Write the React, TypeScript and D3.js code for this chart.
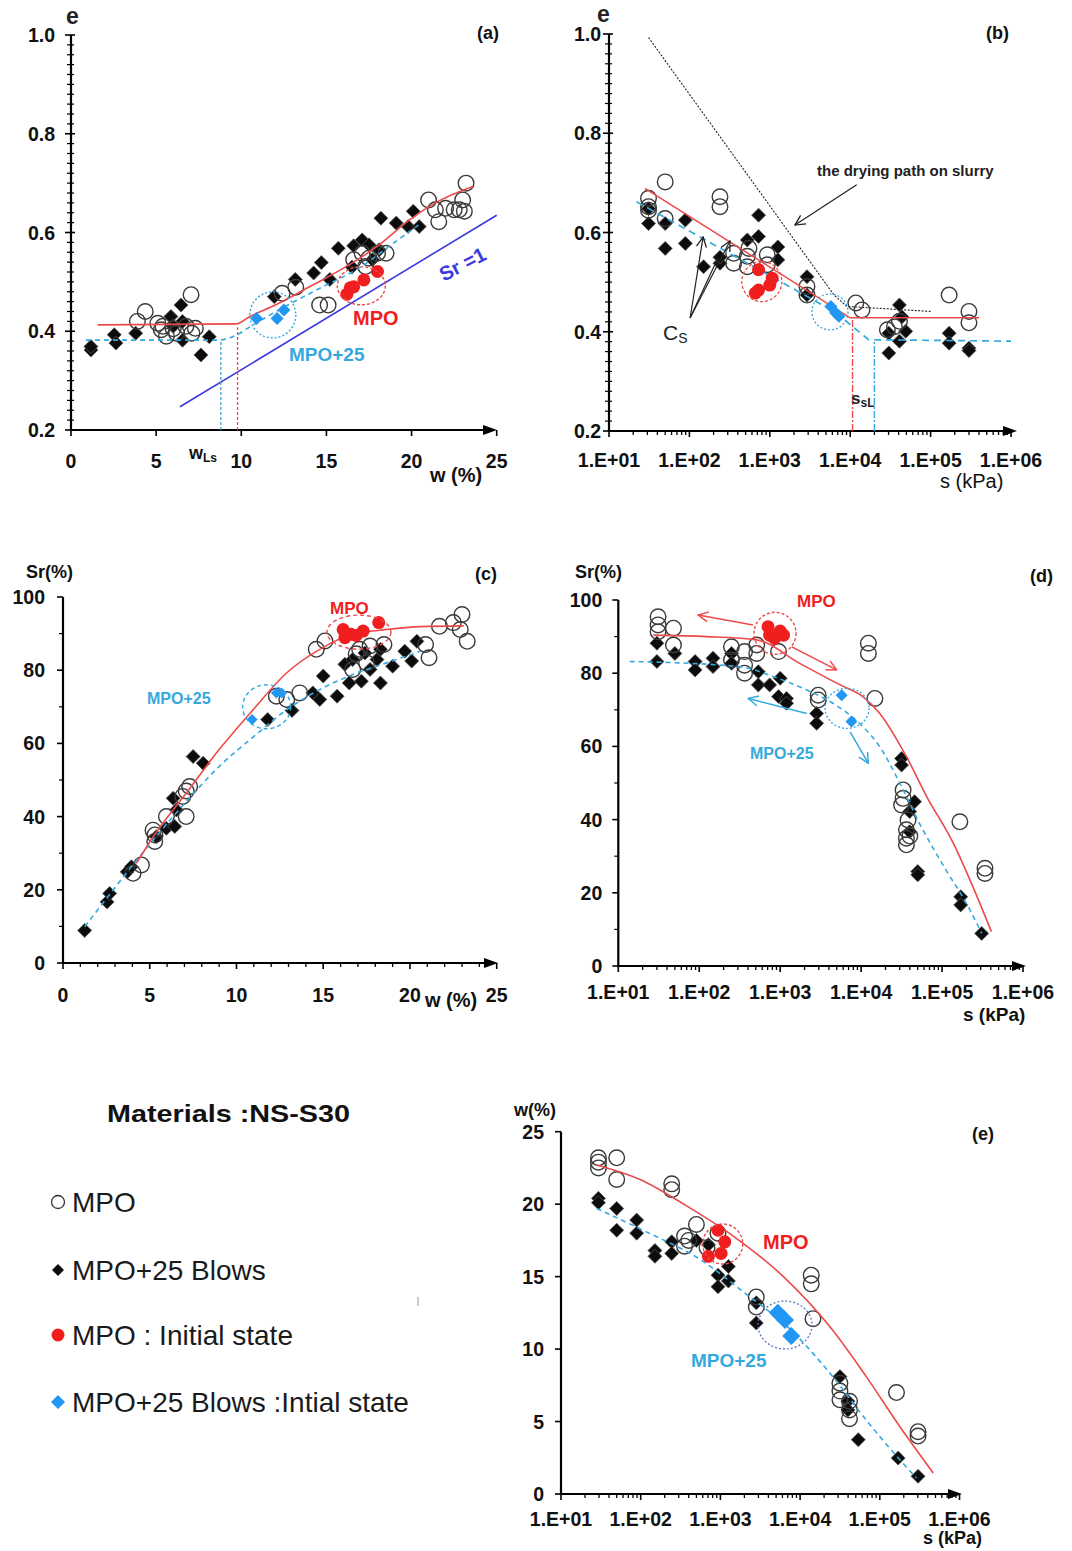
import React from 'react';
import * as d3 from 'd3';

type Pt = [number, number];

// ---------- Panel (a): e vs w (%) ----------
const aMPO: Pt[] = [[4.36,0.44],[3.9,0.42],[5.1,0.416],[5.3,0.403],[5.6,0.39],[6.2,0.396],[6.75,0.41],[7.1,0.396],[7.3,0.406],[7.05,0.474],[5.4,0.41],[6.0,0.405],
  [12.4,0.477],[13.2,0.489],[14.6,0.453],[15.1,0.453],[16.6,0.545],[17.1,0.558],[17.5,0.548],[18.0,0.558],[18.5,0.558],[17.3,0.531],[21.0,0.666],[21.4,0.646],[21.6,0.622],[22.0,0.649],[22.5,0.646],[22.8,0.646],[23.0,0.666],[23.2,0.7],[23.1,0.643]];
const aBlows: Pt[] = [[1.17,0.362],[1.17,0.369],[2.54,0.393],[2.64,0.376],[3.8,0.396],[5.87,0.43],[6.46,0.453],[6.55,0.42],[6.55,0.382],[7.63,0.352],[8.12,0.389],[6.0,0.41],
  [11.94,0.47],[13.17,0.505],[14.25,0.518],[14.7,0.539],[15.2,0.505],[15.7,0.568],[16.6,0.573],[17.1,0.585],[17.5,0.575],[18.1,0.565],[17.7,0.545],[16.5,0.53],[18.2,0.629],[19.1,0.619],[19.8,0.612],[20.1,0.643],[20.45,0.612]];
const aMPOInit: Pt[] = [[16.2,0.475],[16.4,0.488],[16.6,0.49],[17.2,0.504],[18.0,0.521]];
const aBlowsInit: Pt[] = [[10.9,0.426],[12.1,0.426],[12.5,0.443]];
const aRedCurve: Pt[] = [[1.57,0.413],[9.7,0.415],[10.5,0.43],[12.0,0.453],[14.0,0.49],[16.5,0.538],[18.1,0.575],[19.9,0.626],[21.4,0.66],[23.6,0.693]];
const aCyanCurve: Pt[] = [[0.88,0.382],[8.7,0.382],[9.5,0.389],[10.7,0.413],[12.2,0.443],[14.5,0.485],[17.0,0.53],[19.0,0.58],[20.4,0.615]];
const aSrLine: Pt[] = [[6.4,0.247],[25.0,0.635]];
const aWLsRed: Pt[] = [[9.78,0.2],[9.78,0.408]];
const aWLsCyan: Pt[] = [[8.8,0.2],[8.8,0.382]];
const aCircleCyan: Pt = [11.85,0.433];
const aCircleRed: Pt = [17.05,0.492];

// ---------- Panel (b): e vs s (kPa) ----------
const bMPO: Pt[] = [[31,0.669],[31,0.652],[31,0.645],[50,0.702],[50,0.628],[240,0.672],[240,0.652],[355,0.558],[355,0.538],[525,0.531],[525,0.552],[550,0.568],[930,0.555],[930,0.535],[2900,0.491],[2900,0.474],[11750,0.458],[14000,0.444],[29000,0.404],[41000,0.421],[35500,0.41],[170000,0.474],[300000,0.441],[300000,0.418]];
const bBlows: Pt[] = [[31,0.618],[31,0.648],[50,0.568],[50,0.618],[89,0.625],[89,0.578],[150,0.531],[240,0.538],[240,0.55],[525,0.585],[725,0.635],[725,0.592],[1260,0.571],[1260,0.545],[2900,0.511],[2900,0.474],[30200,0.397],[30200,0.357],[41000,0.454],[41000,0.381],[49000,0.401],[44000,0.43],[170000,0.397],[170000,0.377],[300000,0.367],[300000,0.362]];
const bMPOInit: Pt[] = [[725,0.525],[725,0.484],[660,0.478],[1070,0.508],[1000,0.494]];
const bBlowsInit: Pt[] = [[5750,0.451],[6600,0.438],[7250,0.431]];
const bSlurry: Pt[] = [[31,0.993],[6300,0.474],[9100,0.451],[100000,0.441]];
const bRedLine: Pt[] = [[28,0.689],[10000,0.428],[400000,0.428]];
const bCyanLine: Pt[] = [[22,0.662],[6300,0.441],[17000,0.384],[1000000,0.381]];
const bSsLRed: Pt[] = [[10700,0.2],[10700,0.428]];
const bSsLCyan: Pt[] = [[20000,0.2],[20000,0.38]];
const bCircleRed: Pt = [795,0.501];
const bCircleCyan: Pt = [5600,0.44];
const bSlurryArrow: Pt[] = [[12050,0.696],[2055,0.615]];
const bCsFrom: Pt = [102,0.4277];
const bCsTo: Pt[] = [[148,0.591],[320,0.583],[227,0.549]];

// ---------- Panel (c): Sr (%) vs w (%) ----------
const cMPO: Pt[] = [[4.04,24.5],[4.52,26.8],[5.29,33.2],[5.19,36.3],[5.96,40.0],[7.1,40.0],[6.9,45.5],[7.3,48.2],[7.1,47.0],[12.3,72.9],[12.9,72.0],[13.65,73.8],[14.6,85.7],[15.1,88.0],[16.7,80.2],[17.1,85.7],[17.7,86.6],[18.5,87.0],[17.5,82.0],[20.9,87.0],[21.1,83.4],[21.7,92.0],[22.5,93.0],[23.0,95.2],[22.9,91.1],[23.3,87.9],[16.9,84.5],[5.3,35.0]];
const cBlows: Pt[] = [[1.25,8.9],[2.54,16.7],[2.69,19.0],[3.7,24.9],[3.94,26.3],[5.38,34.5],[5.96,36.8],[6.44,37.3],[6.35,45.0],[6.54,41.8],[7.5,56.4],[8.08,54.6],[11.8,66.5],[13.2,69.0],[14.4,73.8],[14.8,72.0],[15.0,78.4],[15.8,72.9],[16.25,81.6],[16.5,76.5],[16.7,82.9],[17.2,77.0],[17.7,80.2],[17.4,84.7],[18.1,82.9],[18.3,85.7],[18.3,76.5],[19.0,81.1],[19.7,85.2],[20.1,82.5],[20.4,87.9]];
const cMPOInit: Pt[] = [[16.15,91.1],[16.25,88.9],[16.6,89.8],[17.3,90.7],[18.2,93.0],[16.9,89.5]];
const cBlowsInit: Pt[] = [[10.9,66.5],[12.3,73.8],[12.6,73.8]];
const cRedCurve: Pt[] = [[4.23,27.2],[5.2,34.5],[7.1,46.4],[9.0,58.3],[10.96,69.2],[12.9,79.3],[14.8,85.7],[16.7,89.8],[18.65,91.1],[20.6,91.9],[23.1,92.1]];
const cCyanCurve: Pt[] = [[1.25,9.9],[5.2,33.6],[7.1,44.1],[9.0,53.7],[11.0,61.9],[12.9,69.2],[14.8,74.7],[16.7,78.8],[18.65,82.0],[20.6,85.2]];
const cCircleCyan: Pt = [11.74,70.0];
const cCircleRed: Pt = [17.06,90.4];

// ---------- Panel (d): Sr (%) vs s (kPa) ----------
const dMPO: Pt[] = [[31,95.4],[31,93.2],[31,91.3],[48,92.3],[48,87.7],[250,87.2],[250,83.6],[363,85.9],[363,82.2],[363,80.0],[513,87.7],[513,85.4],[955,85.9],[2950,74.0],[2950,72.7],[12300,88.2],[12300,85.4],[14800,73.1],[33000,48.1],[33000,45.8],[31600,44.0],[38000,39.9],[36300,37.2],[36300,34.9],[36300,33.1],[40000,35.5],[166000,39.4],[339000,26.7],[339000,25.3]];
const dBlows: Pt[] = [[30,88.2],[30,83.2],[50,85.4],[89,83.2],[89,80.9],[148,84.1],[148,81.8],[251,85.4],[251,82.7],[537,80.4],[537,76.8],[741,76.8],[1000,78.6],[955,73.6],[1200,73.1],[1200,71.8],[2820,69.0],[2820,66.3],[31600,56.7],[31600,54.9],[45700,44.9],[39800,42.2],[39800,36.7],[50100,25.8],[50100,24.9],[170000,18.9],[170000,16.7],[309000,8.9]];
const dMPOInit: Pt[] = [[708,92.7],[741,90.4],[1100,90.4],[851,89.5],[1000,91.5]];
const dBlowsInit: Pt[] = [[5750,74.0],[7590,66.8]];
const dRedCurve: Pt[] = [[27,90.4],[123,90.0],[513,89.1],[1740,82.7],[5500,76.8],[10500,73.6],[17000,69.0],[36300,57.2],[64600,46.3],[138000,33.5],[240000,21.7],[407000,9.4]];
const dCyanCurve: Pt[] = [[13.8,83.2],[316,81.8],[813,79.1],[2140,75.4],[4470,71.8],[9550,66.3],[17000,59.9],[30200,49.9],[52500,39.0],[112000,26.2],[200000,17.1],[309000,8.9]];
const dCircleRed: Pt = [863,90.9];
const dCircleCyan: Pt = [6700,70.4];
const dRedArrows: Pt[][] = [[[461,93.2],[97,95.9]],[[1390,87.2],[4990,80.9]]];
const dCyanArrows: Pt[][] = [[[2130,69.0],[404,73.1]],[[7300,64.0],[12270,55.4]]];

// ---------- Panel (e): w (%) vs s (kPa) ----------
const eMPO: Pt[] = [[29.5,23.2],[29.5,22.9],[29.5,22.5],[50,23.2],[50,21.7],[245,21.4],[245,21.0],[355,17.8],[355,17.1],[400,17.5],[500,18.6],[680,17.0],[933,18.0],[2820,13.6],[2820,12.9],[13800,15.1],[13800,14.5],[14500,12.1],[31600,7.65],[31600,7.1],[31600,6.5],[41700,6.4],[41700,5.8],[41700,5.2],[162000,7.0],[302000,4.3],[302000,4.0]];
const eBlows: Pt[] = [[29.5,20.4],[29.5,20.1],[50,19.7],[50,18.2],[89,18.9],[89,18.0],[151,16.8],[151,16.4],[245,17.4],[245,16.6],[500,17.5],[708,17.2],[933,15.1],[933,14.3],[1260,15.7],[1260,14.7],[2820,13.2],[2820,11.8],[31600,8.1],[39800,6.4],[39800,5.8],[53700,3.75],[170000,2.48],[302000,1.22]];
const eMPOInit: Pt[] = [[933,18.2],[1135,17.4],[708,16.4],[1020,16.6]];
const eBlowsInit: Pt[] = [[5250,12.5],[6460,12.0],[7760,10.9]];
const eRedCurve: Pt[] = [[28,22.7],[98,21.7],[372,19.9],[1450,17.8],[6170,15.0],[25700,11.3],[67600,8.1],[178000,4.66],[468000,1.45]];
const eCyanCurve: Pt[] = [[28,19.7],[107,18.2],[550,16.2],[2340,13.6],[6170,11.8],[25700,8.1],[67600,5.1],[178000,2.37],[288000,1.1]];
const eCircleRed: Pt = [1070,17.25];
const eCircleBlue: Pt = [6460,11.66];

// ---------- Ticks ----------
const wMajor = [0, 5, 10, 15, 20, 25];
const wLabels = ['0', '5', '10', '15', '20', '25'];
const wMinorC = [1,2,3,4,6,7,8,9,11,12,13,14,16,17,18,19,21,22,23,24];
const eMajor = [0.2, 0.4, 0.6, 0.8, 1.0];
const eLabels = ['0.2', '0.4', '0.6', '0.8', '1.0'];
const eMinor = [0.22,0.24,0.26,0.28,0.3,0.32,0.34,0.36,0.38,0.42,0.44,0.46,0.48,0.5,0.52,0.54,0.56,0.58,0.62,0.64,0.66,0.68,0.7,0.72,0.74,0.76,0.78,0.82,0.84,0.86,0.88,0.9,0.92,0.94,0.96,0.98];
const sMajor = [1e1, 1e2, 1e3, 1e4, 1e5, 1e6];
const sLabels = ['1.E+01', '1.E+02', '1.E+03', '1.E+04', '1.E+05', '1.E+06'];
const srMajor = [0, 20, 40, 60, 80, 100];
const srLabels = ['0', '20', '40', '60', '80', '100'];
const srMinor = [10, 30, 50, 70, 90];
const wEMajor = [0, 5, 10, 15, 20, 25];
const wELabels = ['0', '5', '10', '15', '20', '25'];

// legend
const legendItems = ['MPO', 'MPO+25 Blows', 'MPO : Initial state', 'MPO+25 Blows :Intial state'];

const FONT = "'Liberation Sans', Arial, Helvetica, sans-serif";
const RED = '#f01e1e';
const REDLINE = '#ec4a4a';
const CYAN = '#35a9de';
const BLUEMK = '#2196f3';
const SRBLUE = '#3a3ae0';
const TICKFS = 19.5;

function sMinorTicks(): number[] {
  const out: number[] = [];
  for (let d = 1; d < 6; d++) for (let k = 2; k <= 9; k++) out.push(k * Math.pow(10, d));
  return out;
}

function Diamond({ cx, cy, r, fill, stroke }: { cx: number; cy: number; r: number; fill: string; stroke?: string }) {
  return <path d={`M${cx},${cy - r}L${cx + r},${cy}L${cx},${cy + r}L${cx - r},${cy}Z`} fill={fill} stroke={stroke || 'none'} strokeWidth={0.8} />;
}

function Axes(p: {
  x: any; y: any; xMajor: number[]; xLabels: string[]; xMinor: number[];
  yMajor: number[]; yLabels: string[]; yMinor: number[]; both?: boolean;
  xEnd: number; xLabelY: number; yLabelGap: number; fs?: number;
}) {
  const { x, y } = p;
  const x0 = x.range()[0];
  const yb = y.range()[0];
  const yt = y.range()[1];
  const fs = p.fs ?? TICKFS;
  return (
    <g>
      <line x1={x0} x2={p.xEnd} y1={yb} y2={yb} stroke="#000" strokeWidth={2.2} />
      <path d={`M${p.xEnd + 5},${yb}L${p.xEnd - 9},${yb - 5}L${p.xEnd - 9},${yb + 5}Z`} fill="#000" />
      <line x1={x0} x2={x0} y1={yb + 1} y2={yt} stroke="#000" strokeWidth={2.2} />
      {p.xMajor.map((v, i) => <line key={'xM' + i} x1={x(v)} x2={x(v)} y1={yb} y2={yb + 6} stroke="#000" strokeWidth={1.6} />)}
      {p.xMinor.map((v, i) => <line key={'xm' + i} x1={x(v)} x2={x(v)} y1={yb} y2={yb + 4} stroke="#000" strokeWidth={1.3} />)}
      {p.yMajor.map((v, i) => <line key={'yM' + i} x1={x0 - 6} x2={p.both ? x0 + 4 : x0} y1={y(v)} y2={y(v)} stroke="#000" strokeWidth={1.6} />)}
      {p.yMinor.map((v, i) => <line key={'ym' + i} x1={x0 - 4} x2={p.both ? x0 + 3 : x0} y1={y(v)} y2={y(v)} stroke="#000" strokeWidth={1.2} />)}
      {p.xLabels.map((t, i) => (
        <text key={'xl' + i} x={x(p.xMajor[i])} y={p.xLabelY} textAnchor="middle" fontWeight="bold" fontSize={fs} fill="#111">{t}</text>
      ))}
      {p.yLabels.map((t, i) => (
        <text key={'yl' + i} x={x0 - p.yLabelGap} y={y(p.yMajor[i]) + 7} textAnchor="end" fontWeight="bold" fontSize={fs} fill="#111">{t}</text>
      ))}
    </g>
  );
}

function Marks(p: { x: any; y: any; mpo: Pt[]; blows: Pt[] }) {
  return (
    <g>
      {p.blows.map((d, i) => <Diamond key={'b' + i} cx={p.x(d[0])} cy={p.y(d[1])} r={7} fill="#0c0c0c" stroke="#555" />)}
      {p.mpo.map((d, i) => <circle key={'o' + i} cx={p.x(d[0])} cy={p.y(d[1])} r={7.8} fill="none" stroke="#3a3a3a" strokeWidth={1.4} />)}
    </g>
  );
}

function InitMarks(p: { x: any; y: any; mpo: Pt[]; blows: Pt[]; br?: number }) {
  return (
    <g>
      {p.mpo.map((d, i) => <circle key={'r' + i} cx={p.x(d[0])} cy={p.y(d[1])} r={6.5} fill={RED} />)}
      {p.blows.map((d, i) => <Diamond key={'u' + i} cx={p.x(d[0])} cy={p.y(d[1])} r={p.br ?? 6.5} fill={BLUEMK} />)}
    </g>
  );
}

function linePath(x: any, y: any, pts: Pt[], curve?: any) {
  const g = d3.line<Pt>().x(d => x(d[0])).y(d => y(d[1]));
  if (curve) g.curve(curve);
  return g(pts) || '';
}

export default function App() {
  // scales
  const ax = d3.scaleLinear().domain([0, 25]).range([71, 496.7]);
  const ay = d3.scaleLinear().domain([0.2, 1.0]).range([430, 35]);
  const bx = d3.scaleLog().domain([10, 1e6]).range([609, 1011]);
  const by = d3.scaleLinear().domain([0.2, 1.0]).range([431, 34]);
  const cx = d3.scaleLinear().domain([0, 25]).range([63, 496.7]);
  const cy = d3.scaleLinear().domain([0, 100]).range([963, 597]);
  const dx = d3.scaleLog().domain([10, 1e6]).range([618.3, 1023]);
  const dy = d3.scaleLinear().domain([0, 100]).range([966, 600]);
  const ex = d3.scaleLog().domain([10, 1e6]).range([561, 959.5]);
  const ey = d3.scaleLinear().domain([0, 25]).range([1494, 1131.7]);
  const sMinor = sMinorTicks();

  const srAngle = (Math.atan2(ay(aSrLine[1][1]) - ay(aSrLine[0][1]), ax(aSrLine[1][0]) - ax(aSrLine[0][0])) * 180) / Math.PI;

  return (
    <svg width={1072} height={1551} viewBox="0 0 1072 1551" style={{ position: 'absolute', left: 0, top: 0, background: '#fff' }} fontFamily={FONT}>
      <defs>
        <marker id="arrK" viewBox="0 0 12 12" refX="11" refY="6" markerWidth="12" markerHeight="12" markerUnits="userSpaceOnUse" orient="auto">
          <path d="M1,1 L11,6 L1,11" fill="none" stroke="#222" strokeWidth={1.3} />
        </marker>
        <marker id="arrR" viewBox="0 0 12 12" refX="11" refY="6" markerWidth="12" markerHeight="12" markerUnits="userSpaceOnUse" orient="auto">
          <path d="M1,1 L11,6 L1,11" fill="none" stroke={REDLINE} strokeWidth={1.5} />
        </marker>
        <marker id="arrC" viewBox="0 0 12 12" refX="11" refY="6" markerWidth="12" markerHeight="12" markerUnits="userSpaceOnUse" orient="auto">
          <path d="M1,1 L11,6 L1,11" fill="none" stroke={CYAN} strokeWidth={1.5} />
        </marker>
      </defs>
      <rect x={0} y={0} width={1072} height={1551} fill="#fff" />

      {/* ================= Panel (a) ================= */}
      <g>
        <Axes x={ax} y={ay} xMajor={wMajor} xLabels={wLabels} xMinor={[]} yMajor={eMajor} yLabels={eLabels} yMinor={eMinor} both
          xEnd={492} xLabelY={468} yLabelGap={16} />
        <text x={66} y={24} fontSize={23} fontWeight="bold" fill="#222">e</text>
        <text x={477} y={39} fontSize={18} fontWeight="bold" fill="#111">(a)</text>
        <text x={430} y={482} fontSize={20} fontWeight="bold" fill="#111">w (%)</text>
        <text x={189} y={459} fontSize={18} fontWeight="bold" fill="#111">w<tspan fontSize={12} dy={3}>Ls</tspan></text>
        <path d={linePath(ax, ay, aSrLine)} stroke={SRBLUE} strokeWidth={1.6} fill="none" />
        <path d={linePath(ax, ay, aWLsCyan)} stroke={CYAN} strokeWidth={1.3} strokeDasharray="3,2" fill="none" />
        <path d={linePath(ax, ay, aWLsRed)} stroke={REDLINE} strokeWidth={1.3} strokeDasharray="3,2" fill="none" />
        <Marks x={ax} y={ay} mpo={aMPO} blows={aBlows} />
        <path d={linePath(ax, ay, aCyanCurve, d3.curveMonotoneX)} stroke={CYAN} strokeWidth={1.6} strokeDasharray="5,4" fill="none" />
        <path d={linePath(ax, ay, aRedCurve, d3.curveMonotoneX)} stroke={REDLINE} strokeWidth={1.6} fill="none" />
        <InitMarks x={ax} y={ay} mpo={aMPOInit} blows={aBlowsInit} />
        <circle cx={ax(aCircleCyan[0])} cy={ay(aCircleCyan[1])} r={23} fill="none" stroke={CYAN} strokeWidth={1.4} strokeDasharray="2,2" />
        <ellipse cx={ax(aCircleRed[0])} cy={ay(aCircleRed[1])} rx={24} ry={19} fill="none" stroke={REDLINE} strokeWidth={1.4} strokeDasharray="3,2" />
        <text x={353} y={325} fontSize={20} fontWeight="bold" fill={RED}>MPO</text>
        <text x={289} y={361} fontSize={19} fontWeight="bold" fill={CYAN}>MPO+25</text>
        <text x={463} y={271} fontSize={20} fontWeight="bold" fill={SRBLUE} textAnchor="middle" transform={`rotate(${srAngle + 4},463,265)`}>Sr =1</text>
      </g>

      {/* ================= Panel (b) ================= */}
      <g>
        <Axes x={bx} y={by} xMajor={sMajor} xLabels={sLabels} xMinor={sMinor} yMajor={eMajor} yLabels={eLabels} yMinor={eMinor} both
          xEnd={1012} xLabelY={467} yLabelGap={8} />
        <text x={597} y={22} fontSize={23} fontWeight="bold" fill="#222">e</text>
        <text x={986} y={39} fontSize={18} fontWeight="bold" fill="#111">(b)</text>
        <text x={940} y={488} fontSize={20} fill="#111">s (kPa)</text>
        <path d={linePath(bx, by, bSsLRed)} stroke={REDLINE} strokeWidth={1.4} strokeDasharray="7,2,2,2" fill="none" />
        <path d={linePath(bx, by, bSsLCyan)} stroke={CYAN} strokeWidth={1.4} strokeDasharray="7,2,2,2" fill="none" />
        <path d={linePath(bx, by, bSlurry)} stroke="#222" strokeWidth={1.1} strokeDasharray="2,1.5" fill="none" />
        <Marks x={bx} y={by} mpo={bMPO} blows={bBlows} />
        <path d={linePath(bx, by, bCyanLine)} stroke={CYAN} strokeWidth={1.7} strokeDasharray="7,5" fill="none" />
        <path d={linePath(bx, by, bRedLine)} stroke={REDLINE} strokeWidth={1.5} fill="none" />
        <InitMarks x={bx} y={by} mpo={bMPOInit} blows={bBlowsInit} />
        <circle cx={bx(bCircleRed[0])} cy={by(bCircleRed[1])} r={20} fill="none" stroke={REDLINE} strokeWidth={1.3} strokeDasharray="3,2" />
        <circle cx={bx(bCircleCyan[0])} cy={by(bCircleCyan[1])} r={18} fill="none" stroke={CYAN} strokeWidth={1.3} strokeDasharray="2,2" />
        <path d={linePath(bx, by, bSlurryArrow)} stroke="#222" strokeWidth={1.2} fill="none" markerEnd="url(#arrK)" />
        <text x={817} y={176} fontSize={15} fontWeight="bold" fill="#222">the drying path on slurry</text>
        {bCsTo.map((t, i) => (
          <path key={'cs' + i} d={linePath(bx, by, [bCsFrom, t])} stroke="#222" strokeWidth={1.2} fill="none" markerEnd={i < 2 ? 'url(#arrK)' : undefined} />
        ))}
        <text x={663} y={340} fontSize={21} fill="#222">C<tspan fontSize={14} dy={3}>S</tspan></text>
        <text x={851} y={404} fontSize={17} fontWeight="bold" fill="#222">s<tspan fontSize={12} dy={3}>sL</tspan></text>
      </g>

      {/* ================= Panel (c) ================= */}
      <g>
        <Axes x={cx} y={cy} xMajor={wMajor} xLabels={wLabels} xMinor={wMinorC} yMajor={srMajor} yLabels={srLabels} yMinor={srMinor}
          xEnd={493} xLabelY={1002} yLabelGap={18} />
        <text x={26} y={578} fontSize={18} fontWeight="bold" fill="#111">Sr(%)</text>
        <text x={475} y={580} fontSize={18} fontWeight="bold" fill="#111">(c)</text>
        <text x={425} y={1007} fontSize={20} fontWeight="bold" fill="#111">w (%)</text>
        <Marks x={cx} y={cy} mpo={cMPO} blows={cBlows} />
        <path d={linePath(cx, cy, cCyanCurve, d3.curveMonotoneX)} stroke={CYAN} strokeWidth={1.6} strokeDasharray="5,4" fill="none" />
        <path d={linePath(cx, cy, cRedCurve, d3.curveMonotoneX)} stroke={REDLINE} strokeWidth={1.6} fill="none" />
        <InitMarks x={cx} y={cy} mpo={cMPOInit} blows={cBlowsInit} br={5.5} />
        <ellipse cx={cx(cCircleCyan[0])} cy={cy(cCircleCyan[1])} rx={24} ry={22} fill="none" stroke={CYAN} strokeWidth={1.4} strokeDasharray="4,3" />
        <ellipse cx={cx(cCircleRed[0])} cy={cy(cCircleRed[1])} rx={32} ry={17} fill="none" stroke={REDLINE} strokeWidth={1.4} strokeDasharray="4,3" />
        <text x={330} y={614} fontSize={17} fontWeight="bold" fill={RED}>MPO</text>
        <text x={147} y={704} fontSize={16} fontWeight="bold" fill={CYAN}>MPO+25</text>
      </g>

      {/* ================= Panel (d) ================= */}
      <g>
        <Axes x={dx} y={dy} xMajor={sMajor} xLabels={sLabels} xMinor={sMinor} yMajor={srMajor} yLabels={srLabels} yMinor={srMinor}
          xEnd={1021} xLabelY={999} yLabelGap={16} />
        <text x={575} y={578} fontSize={18} fontWeight="bold" fill="#111">Sr(%)</text>
        <text x={1030} y={582} fontSize={18} fontWeight="bold" fill="#111">(d)</text>
        <text x={963} y={1021} fontSize={19} fontWeight="bold" fill="#111">s (kPa)</text>
        <Marks x={dx} y={dy} mpo={dMPO} blows={dBlows} />
        <path d={linePath(dx, dy, dCyanCurve, d3.curveMonotoneX)} stroke={CYAN} strokeWidth={1.6} strokeDasharray="5,4" fill="none" />
        <path d={linePath(dx, dy, dRedCurve, d3.curveMonotoneX)} stroke={REDLINE} strokeWidth={1.6} fill="none" />
        <InitMarks x={dx} y={dy} mpo={dMPOInit} blows={dBlowsInit} br={6} />
        <circle cx={dx(dCircleRed[0])} cy={dy(dCircleRed[1])} r={21} fill="none" stroke={REDLINE} strokeWidth={1.4} strokeDasharray="3,2" />
        <ellipse cx={dx(dCircleCyan[0])} cy={dy(dCircleCyan[1])} rx={22} ry={20} fill="none" stroke={CYAN} strokeWidth={1.3} strokeDasharray="2,2" />
        {dRedArrows.map((a, i) => <path key={'ra' + i} d={linePath(dx, dy, a)} stroke={REDLINE} strokeWidth={1.5} fill="none" markerEnd="url(#arrR)" />)}
        {dCyanArrows.map((a, i) => <path key={'ca' + i} d={linePath(dx, dy, a)} stroke={CYAN} strokeWidth={1.5} fill="none" markerEnd="url(#arrC)" />)}
        <text x={797} y={607} fontSize={17} fontWeight="bold" fill={RED}>MPO</text>
        <text x={750} y={759} fontSize={16} fontWeight="bold" fill={CYAN}>MPO+25</text>
      </g>

      {/* ================= Legend ================= */}
      <g>
        <text x={107} y={1122} fontSize={24} fontWeight="bold" fill="#111" textLength={243} lengthAdjust="spacingAndGlyphs">Materials :NS-S30</text>
        {legendItems.map((t, i) => {
          const yy = [1202, 1270, 1335, 1402][i];
          return (
            <g key={'lg' + i}>
              {i === 0 && <circle cx={58} cy={yy} r={6.5} fill="none" stroke="#333" strokeWidth={1.3} />}
              {i === 1 && <Diamond cx={58} cy={yy} r={6} fill="#0c0c0c" />}
              {i === 2 && <circle cx={58} cy={yy} r={6.5} fill={RED} />}
              {i === 3 && <Diamond cx={58} cy={yy} r={7} fill={BLUEMK} />}
              <text x={72} y={yy + 10} fontSize={28} fill="#1a1a1a">{t}</text>
            </g>
          );
        })}
        <line x1={418} x2={418} y1={1297} y2={1306} stroke="#999" strokeWidth={1} />
      </g>

      {/* ================= Panel (e) ================= */}
      <g>
        <Axes x={ex} y={ey} xMajor={sMajor} xLabels={sLabels} xMinor={sMinor} yMajor={wEMajor} yLabels={wELabels} yMinor={[]}
          xEnd={957} xLabelY={1526} yLabelGap={17} />
        <text x={514} y={1116} fontSize={18} fontWeight="bold" fill="#111">w(%)</text>
        <text x={972} y={1140} fontSize={18} fontWeight="bold" fill="#111">(e)</text>
        <text x={923} y={1544} fontSize={18} fontWeight="bold" fill="#111">s (kPa)</text>
        <Marks x={ex} y={ey} mpo={eMPO} blows={eBlows} />
        <path d={linePath(ex, ey, eCyanCurve, d3.curveMonotoneX)} stroke={CYAN} strokeWidth={1.6} strokeDasharray="5,4" fill="none" />
        <path d={linePath(ex, ey, eRedCurve, d3.curveMonotoneX)} stroke={REDLINE} strokeWidth={1.6} fill="none" />
        <InitMarks x={ex} y={ey} mpo={eMPOInit} blows={eBlowsInit} br={9} />
        <circle cx={ex(eCircleRed[0])} cy={ey(eCircleRed[1])} r={20} fill="none" stroke={REDLINE} strokeWidth={1.4} strokeDasharray="3,2" />
        <ellipse cx={ex(eCircleBlue[0])} cy={ey(eCircleBlue[1])} rx={27} ry={24} fill="none" stroke="#5a78c0" strokeWidth={1.3} strokeDasharray="2,2" />
        <text x={763} y={1249} fontSize={20} fontWeight="bold" fill={RED}>MPO</text>
        <text x={691} y={1367} fontSize={19} fontWeight="bold" fill={CYAN}>MPO+25</text>
      </g>
    </svg>
  );
}
